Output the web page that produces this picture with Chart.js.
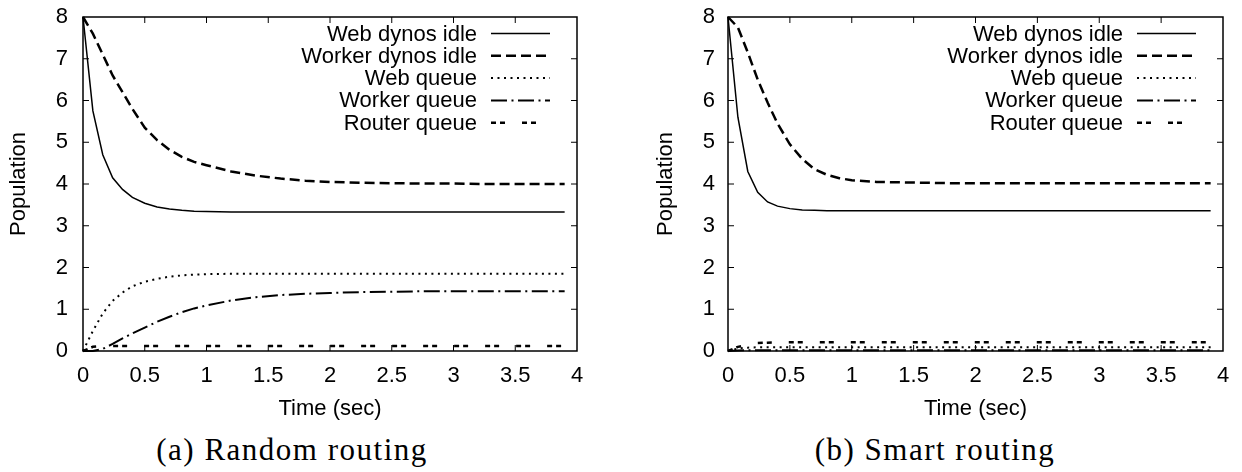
<!DOCTYPE html>
<html>
<head>
<meta charset="utf-8">
<script src="https://cdn.jsdelivr.net/npm/chart.js@4"></script>
<style>
  body { margin: 0; background: #fff; width: 1242px; height: 472px; position: relative; overflow: hidden; }
  .box { position: absolute; top: 0; width: 621px; height: 422px; }
  .cap { position: absolute; top: 434px; width: 400px; text-align: center; font-family: "Liberation Serif", serif;
         font-size: 31px; line-height: 31px; letter-spacing: 1.5px; color: #000; white-space: nowrap; }
</style>
</head>
<body>
<div class="box" style="left:0"><canvas id="chartA"></canvas></div>
<div class="box" style="left:621px"><canvas id="chartB"></canvas></div>
<div class="cap" style="left:92px">(a) Random routing</div>
<div class="cap" style="left:735px">(b) Smart routing</div>
<script>
// time axis (sec), shared by every series
const times = [0, 0.08, 0.16, 0.24, 0.32, 0.4, 0.5, 0.6, 0.7, 0.8, 0.9, 1.0, 1.2, 1.4, 1.6, 1.8, 2.0, 2.25, 2.5, 2.75, 3.0, 3.25, 3.5, 3.9];
const seriesNames = ['Web dynos idle', 'Worker dynos idle', 'Web queue', 'Worker queue', 'Router queue'];
const xTicks = [0, 0.5, 1, 1.5, 2, 2.5, 3, 3.5, 4];
const yTicks = [0, 1, 2, 3, 4, 5, 6, 7, 8];

// (a) random routing
const randomWebIdle = [8, 5.75, 4.7, 4.15, 3.87, 3.68, 3.54, 3.45, 3.4, 3.37, 3.35, 3.34, 3.33, 3.33, 3.33, 3.33, 3.33, 3.33, 3.33, 3.33, 3.33, 3.33, 3.33, 3.33];
const randomWorkerIdle = [8, 7.6, 7.1, 6.6, 6.2, 5.8, 5.35, 5.05, 4.82, 4.65, 4.53, 4.45, 4.3, 4.2, 4.13, 4.08, 4.05, 4.03, 4.02, 4.01, 4.01, 4.0, 4.0, 4.0];
const randomWebQueue = [0, 0.48, 0.9, 1.2, 1.4, 1.55, 1.66, 1.73, 1.78, 1.81, 1.83, 1.84, 1.85, 1.85, 1.85, 1.85, 1.85, 1.85, 1.85, 1.85, 1.85, 1.85, 1.85, 1.85];
const randomWorkerQueue = [0, 0.0, 0.05, 0.17, 0.3, 0.42, 0.56, 0.7, 0.82, 0.93, 1.02, 1.09, 1.21, 1.29, 1.34, 1.37, 1.39, 1.41, 1.42, 1.43, 1.43, 1.43, 1.43, 1.43];
const randomRouterQueue = [0, 0.1, 0.12, 0.12, 0.12, 0.12, 0.12, 0.12, 0.12, 0.12, 0.12, 0.12, 0.12, 0.12, 0.12, 0.12, 0.12, 0.12, 0.12, 0.12, 0.12, 0.12, 0.12, 0.12];

// (b) smart routing
const smartWebIdle = [8, 5.6, 4.3, 3.8, 3.57, 3.47, 3.41, 3.38, 3.37, 3.36, 3.36, 3.36, 3.36, 3.36, 3.36, 3.36, 3.36, 3.36, 3.36, 3.36, 3.36, 3.36, 3.36, 3.36];
const smartWorkerIdle = [8, 7.75, 7.15, 6.5, 5.95, 5.45, 4.95, 4.6, 4.35, 4.22, 4.14, 4.09, 4.05, 4.04, 4.03, 4.02, 4.02, 4.02, 4.02, 4.02, 4.02, 4.02, 4.02, 4.02];
const smartWebQueue = [0, 0.06, 0.08, 0.09, 0.09, 0.09, 0.09, 0.09, 0.09, 0.09, 0.09, 0.09, 0.09, 0.09, 0.09, 0.09, 0.09, 0.09, 0.09, 0.09, 0.09, 0.09, 0.09, 0.09];
const smartWorkerQueue = [0, 0.01, 0.02, 0.02, 0.02, 0.02, 0.02, 0.02, 0.02, 0.02, 0.02, 0.02, 0.02, 0.02, 0.02, 0.02, 0.02, 0.02, 0.02, 0.02, 0.02, 0.02, 0.02, 0.02];
const smartRouterQueue = [0, 0.1, 0.15, 0.19, 0.2, 0.21, 0.21, 0.21, 0.21, 0.21, 0.21, 0.21, 0.21, 0.21, 0.21, 0.21, 0.21, 0.21, 0.21, 0.21, 0.21, 0.21, 0.21, 0.21];

// gnuplot-like line types
const lineStyles = [
    { width: 1.5, dash: [] },
    { width: 2.5, dash: [10, 5] },
    { width: 2, dash: [2, 4.5] },
    { width: 2, dash: [16, 4.5, 2, 4.5] },
    { width: 2.5, dash: [5, 4, 5, 17] }
];

const FONT = 'Liberation Sans';
const FSIZE = 22;

// box with inward ticks on all sides + legend in the top right corner
const framePlugin = {
    id: 'frame',
    afterDatasetsDraw(chart) {
        const { ctx, chartArea: a, scales: { x, y } } = chart;
        ctx.save();
        ctx.strokeStyle = '#000';
        ctx.lineWidth = 1;
        ctx.beginPath();
        xTicks.slice(1, -1).forEach(v => {
            const px = x.getPixelForValue(v);
            ctx.moveTo(px, a.bottom); ctx.lineTo(px, a.bottom - 6);
            ctx.moveTo(px, a.top); ctx.lineTo(px, a.top + 6);
        });
        yTicks.slice(1, -1).forEach(v => {
            const py = y.getPixelForValue(v);
            ctx.moveTo(a.left, py); ctx.lineTo(a.left + 6, py);
            ctx.moveTo(a.right, py); ctx.lineTo(a.right - 6, py);
        });
        ctx.stroke();
        ctx.lineWidth = 1.5;
        ctx.strokeRect(a.left, a.top, a.right - a.left, a.bottom - a.top);

        ctx.font = FSIZE + 'px "' + FONT + '"';
        ctx.textAlign = 'right';
        ctx.textBaseline = 'middle';
        ctx.fillStyle = '#000';
        chart.data.datasets.forEach((ds, i) => {
            const yy = a.top + 16.5 + i * 22.3;
            ctx.fillText(ds.label, a.right - 100, yy + 1);
            ctx.lineWidth = ds.borderWidth;
            ctx.setLineDash(ds.borderDash);
            ctx.beginPath();
            ctx.moveTo(a.right - 86, yy);
            ctx.lineTo(a.right - 27, yy);
            ctx.stroke();
        });
        ctx.restore();
    }
};

function makeChart(id, series, axisWidth, titlePad, rightPad, yTickPad) {
    const ctx = document.getElementById(id).getContext('2d');
    return new Chart(ctx, {
        type: 'line',
        data: {
            labels: times,
            datasets: series.map((values, i) => ({
                label: seriesNames[i],
                data: values.map((v, j) => ({ x: times[j], y: v })),
                borderColor: '#000',
                borderWidth: lineStyles[i].width,
                borderDash: lineStyles[i].dash,
                pointRadius: 0,
                fill: false,
                tension: 0,
                clip: 3
            }))
        },
        options: {
            responsive: true,
            maintainAspectRatio: false,
            animation: false,
            layout: { padding: { top: 17, right: rightPad, bottom: 0, left: 0 } },
            plugins: { legend: { display: false }, tooltip: { enabled: false } },
            scales: {
                x: {
                    type: 'linear', min: 0, max: 4,
                    afterBuildTicks: s => { s.ticks = xTicks.map(v => ({ value: v })); },
                    afterFit: s => { s.height = 71; s.paddingLeft = 0; s.paddingRight = 0; },
                    grid: { display: false, drawTicks: false },
                    border: { display: false },
                    ticks: { color: '#000', padding: 12, maxRotation: 0, callback: v => String(v),
                             font: { family: FONT, size: FSIZE } },
                    title: { display: true, text: 'Time (sec)', color: '#000', padding: { top: 0, bottom: 0 },
                             font: { family: FONT, size: FSIZE } }
                },
                y: {
                    min: 0, max: 8,
                    afterBuildTicks: s => { s.ticks = yTicks.map(v => ({ value: v })); },
                    afterFit: s => { s.width = axisWidth; s.paddingTop = 0; s.paddingBottom = 0; },
                    grid: { display: false, drawTicks: false },
                    border: { display: false },
                    ticks: { color: '#000', padding: yTickPad, callback: v => String(v),
                             font: { family: FONT, size: FSIZE } },
                    title: { display: true, text: 'Population', color: '#000', padding: { top: titlePad, bottom: 0 },
                             font: { family: FONT, size: FSIZE } }
                }
            }
        },
        plugins: [framePlugin]
    });
}

makeChart('chartA', [randomWebIdle, randomWorkerIdle, randomWebQueue, randomWorkerQueue, randomRouterQueue], 83, 6, 44, 15);
makeChart('chartB', [smartWebIdle, smartWorkerIdle, smartWebQueue, smartWorkerQueue, smartRouterQueue], 107, 32, 19, 13);
</script>
</body>
</html>
